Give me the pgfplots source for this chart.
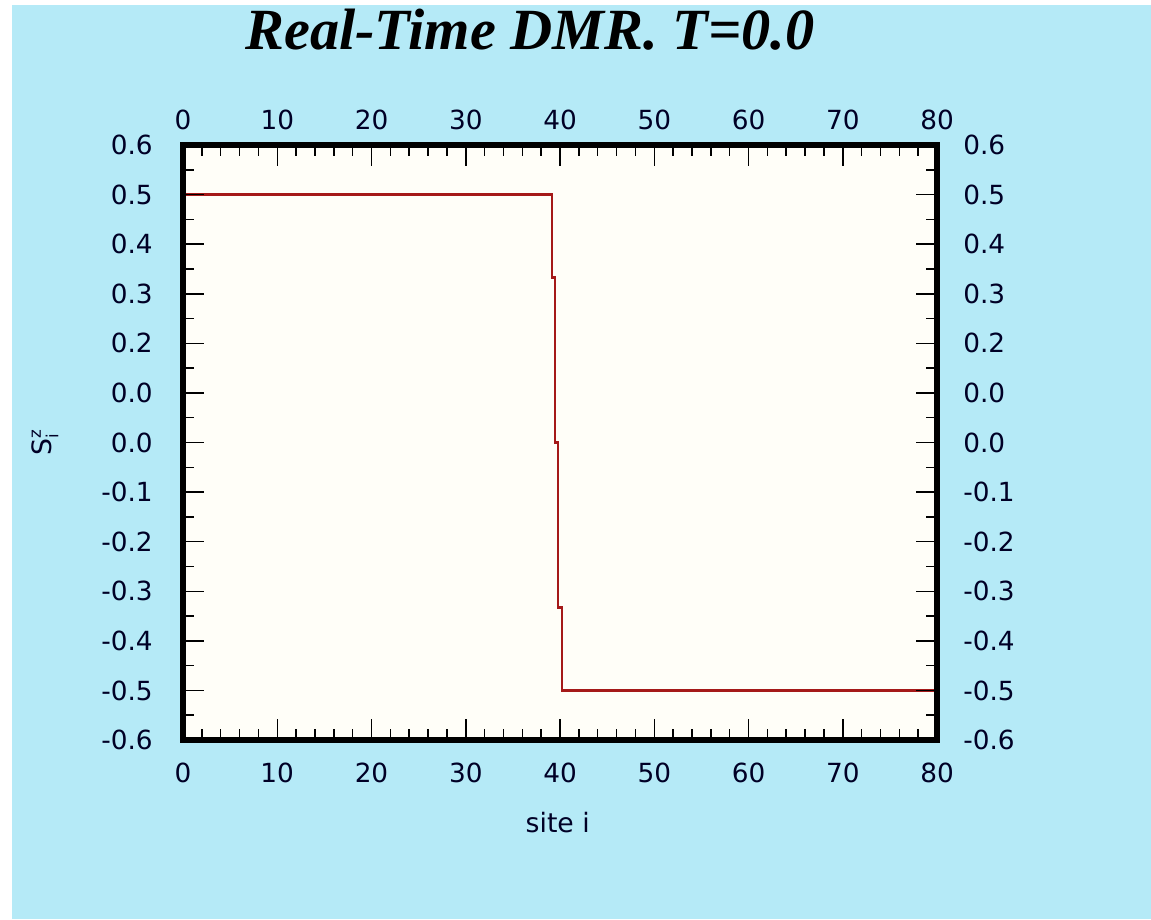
\documentclass[border=0pt]{standalone}
\usepackage{pgfplots}
\pgfplotsset{compat=1.18}
\usepackage{fontspec}
\setmainfont{DejaVu Sans}
\newfontfamily\titlefont{Liberation Serif}
\usetikzlibrary{backgrounds}

\definecolor{bgblue}{RGB}{181,234,247}
\definecolor{plotbg}{RGB}{255,254,248}
\definecolor{linered}{RGB}{165,25,25}

% 1 px of the reference = 0.6pt
\pgfplotsset{
  dmrbox/.style={
    scale only axis,
    width=452.4pt, height=357pt,
    xmin=0, xmax=80, ymin=-0.6, ymax=0.6,
    xtick={0,10,20,30,40,50,60,70,80},
    xticklabels={0,10,20,30,40,50,60,70,80},
    minor x tick num=4,
    ytick={-0.6,-0.5,-0.4,-0.3,-0.2,-0.1,0,0.1,0.2,0.3,0.4,0.5,0.6},
    yticklabels={-0.6,-0.5,-0.4,-0.3,-0.2,-0.1,0.0,0.0,0.2,0.3,0.4,0.5,0.6},
    minor y tick num=1,
    tick align=inside,
    major tick length=12.6pt,
    minor tick length=6.6pt,
    every tick/.style={black, line width=0.9pt},
    axis line style={black, line width=3.2pt},
    every tick label/.append style={inner sep=0pt, font=\fontsize{15.8}{18}\selectfont, text=black!85!blue},
  }
}

\begin{document}
\begin{tikzpicture}
\begin{axis}[
    dmrbox,
    clip=false,
    axis background/.style={fill=plotbg},
    xticklabel shift=13.8pt,
    yticklabel shift=18pt,
]
\addplot[linered, line width=1.4pt, const plot mark left] coordinates {
    (0,0.5)
    (39.12,0.333)
    (39.47,0.0)
    (39.82,-0.333)
    (40.18,-0.5)
    (80,-0.5)
};
\coordinate (pagetl) at (rel axis cs:-0.2427,1.2437);
\coordinate (pagebr) at (rel axis cs:1.2838,-0.3008);
\coordinate (bluetl) at (rel axis cs:-0.2268,1.2353);
\node[anchor=base, font=\titlefont\bfseries\itshape\fontsize{35}{38}\selectfont]
    at (rel axis cs:0.460,1.1597) {Real-Time DMR. T=0.0};
\node[anchor=base, font=\fontsize{16}{19}\selectfont, text=black!85!blue]
    at (rel axis cs:0.497,-0.156) {site i};
\node[rotate=90, anchor=center, font=\fontsize{16}{19}\selectfont, text=black!85!blue]
    at (rel axis cs:-0.183,0.5) {S$^{\mbox{\fontsize{10}{12}\selectfont z}}_{\mbox{\fontsize{10}{12}\selectfont i}}$};
\end{axis}
\begin{axis}[
    dmrbox,
    xticklabel pos=upper,
    yticklabel pos=right,
    xticklabel shift=9pt,
    yticklabel shift=15.6pt,
]
\end{axis}
\begin{scope}[on background layer]
\fill[white] (pagetl) rectangle (pagebr);
\fill[bgblue] (bluetl) rectangle (pagebr);
\end{scope}
\end{tikzpicture}
\end{document}
